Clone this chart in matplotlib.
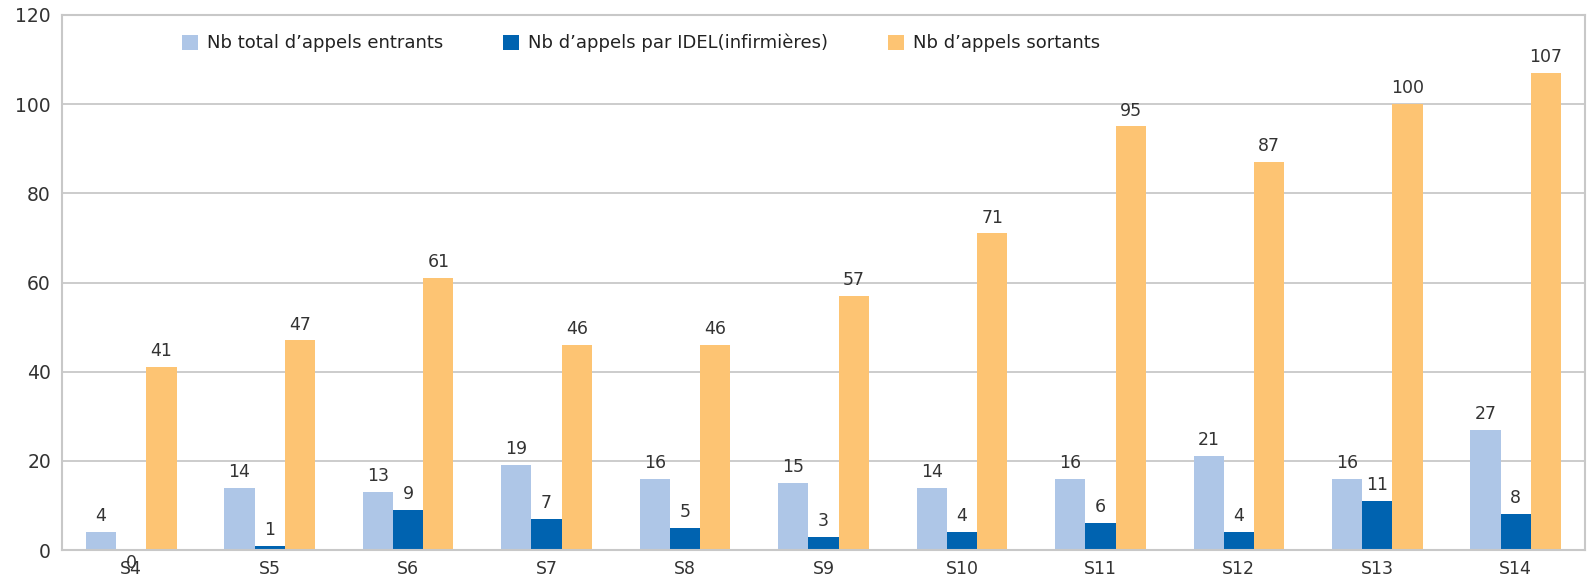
import matplotlib.pyplot as plt
import numpy as np

categories = ["S4", "S5", "S6", "S7", "S8", "S9", "S10", "S11", "S12", "S13", "S14"]
entrants = [4, 14, 13, 19, 16, 15, 14, 16, 21, 16, 27]
idel = [0, 1, 9, 7, 5, 3, 4, 6, 4, 11, 8]
sortants = [41, 47, 61, 46, 46, 57, 71, 95, 87, 100, 107]
series_names = ["Nb total d\u2019appels entrants", "Nb d\u2019appels par IDEL(infirmi\u00e8res)", "Nb d\u2019appels sortants"]
colors = ["#AEC6E7", "#0063B0", "#FDC473"]

fig = plt.figure(figsize=(15.88, 5.79), dpi=100)
ax = fig.add_axes([62/1588, 1 - 550/579, (1585-62)/1588, (550-15)/579])

x = np.arange(len(categories))
w = 0.218
grid_c = "#C8C8C8"
ax.set_axisbelow(True)
ax.yaxis.grid(True, color=grid_c, linewidth=1.3)
for spine in ax.spines.values():
    spine.set_color(grid_c)
    spine.set_linewidth(1.5)

series = [entrants, idel, sortants]
for i, (vals, name, c) in enumerate(zip(series, series_names, colors)):
    ax.bar(x + (i - 1) * w, vals, width=w, color=c, label=name)
    for xi, v in zip(x + (i - 1) * w, vals):
        if v == 0:
            ax.annotate(str(v), (xi, 0), xytext=(0, -3), textcoords="offset points",
                        ha="center", va="top", fontsize=12.5, color="#333333")
        else:
            ax.annotate(str(v), (xi, v), xytext=(0, 5), textcoords="offset points",
                        ha="center", va="bottom", fontsize=12.5, color="#333333")

ax.set_xlim(-0.5, len(categories) - 0.5)
ax.set_ylim(0, 120)
ax.set_yticks(np.arange(0, 121, 20))
ax.set_xticks(x)
ax.set_xticklabels(categories)
ax.tick_params(axis="both", length=0, colors="#333333")
ax.tick_params(axis="x", pad=7, labelsize=12.5)
ax.tick_params(axis="y", pad=8, labelsize=13.5)

leg = ax.legend(loc="upper left", bbox_to_anchor=(0.068, 0.995), ncol=3, frameon=False,
                fontsize=13, handlelength=0.9, handleheight=0.9, columnspacing=3.3,
                handletextpad=0.5)
for t in leg.get_texts():
    t.set_color("#222222")

fig.savefig("out.png", dpi=100)
